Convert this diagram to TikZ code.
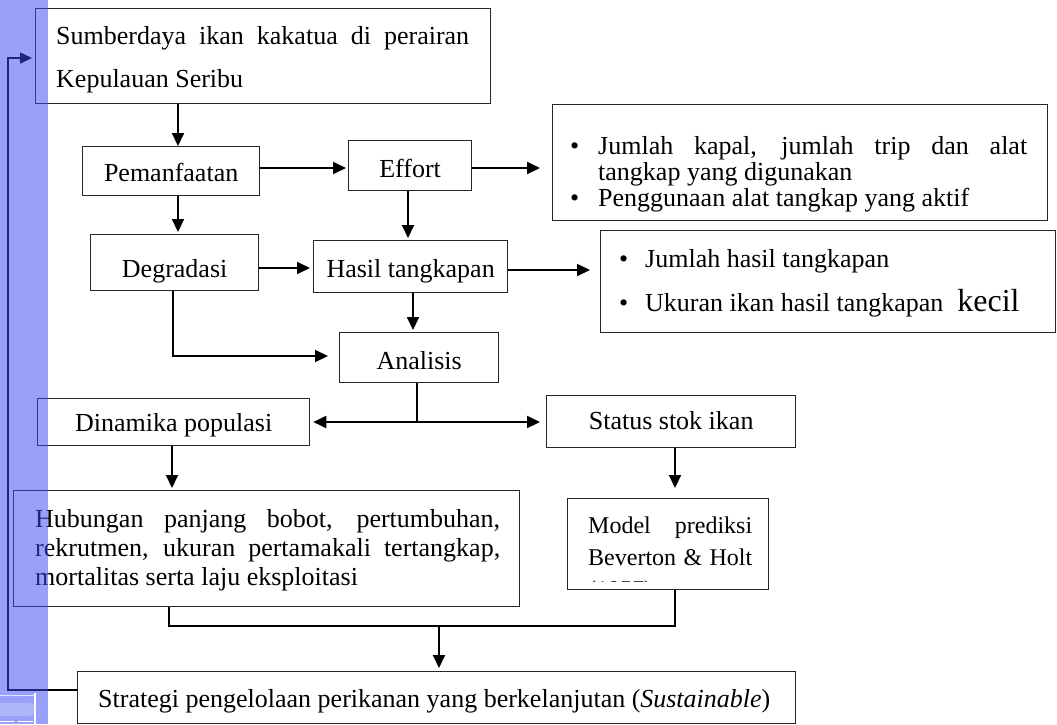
\documentclass[tikz,border=0pt]{standalone}
\usepackage{fontspec}
\setmainfont{Liberation Serif}
\usetikzlibrary{arrows.meta,calc}
\definecolor{stripblue}{RGB}{59,72,245}
\definecolor{stripbar}{RGB}{176,182,252}
\begin{document}
\begin{tikzpicture}[x=1pt,y=-1pt,
  font=\fontsize{26}{30}\selectfont,
  box/.style={draw=black!85, line width=1.3pt, inner sep=0pt, anchor=north west, text depth=6pt},
  txt/.style={inner sep=0pt, anchor=base west, align=left},
  arr/.style={line width=2pt, -{Triangle[length=13pt,width=12pt]}},
  ln/.style={line width=1.6pt},
  fb/.style={line width=1.6pt, -{Triangle[length=12pt,width=11pt]}},
]
\useasboundingbox (0,0) rectangle (1057,724);

% ---- boxes ----
\node[box, minimum width=455pt, minimum height=95pt] (src) at (35,8) {};
\node[txt, font=\fontsize{26}{43}\selectfont] (srct) at (56,87)
  {\makebox[413pt][s]{Sumberdaya ikan kakatua di perairan}\\Kepulauan Seribu};

\node[box, minimum width=177pt, minimum height=49pt, text height=27pt] (pem) at (82,146) {Pemanfaatan};
\node[box, minimum width=123pt, minimum height=50pt, text height=30pt] (eff) at (348,140) {Effort};

\node[box, minimum width=495pt, minimum height=116pt] (bul1) at (552,104) {};
\node[txt, font=\fontsize{26}{26}\selectfont] (bul1t) at (570,206)
  {\makebox[28pt][l]{\textbullet}\makebox[429pt][s]{Jumlah kapal, jumlah trip dan alat}\\
   \hspace*{28pt}tangkap yang digunakan\\
   \makebox[28pt][l]{\textbullet}Penggunaan alat tangkap yang aktif};

\node[box, minimum width=168pt, minimum height=56pt, text height=36pt] (deg) at (90,234) {Degradasi};
\node[box, minimum width=194pt, minimum height=52pt, text height=28pt] (has) at (313,240) {Hasil tangkapan};

\node[box, minimum width=455pt, minimum height=102pt] (bul2) at (600,230) {};
\node[txt, font=\fontsize{26}{44}\selectfont] (bul2t) at (619,311)
  {\makebox[26pt][l]{\textbullet}Jumlah hasil tangkapan\\
   \makebox[26pt][l]{\textbullet}Ukuran ikan hasil tangkapan\hspace{14pt}{\fontsize{32}{44}\selectfont kecil}};

\node[box, minimum width=159pt, minimum height=50pt, text height=30pt] (ana) at (339,332) {Analisis};
\node[box, minimum width=272pt, minimum height=47pt, text height=25pt] (din) at (37,398) {Dinamika populasi};
\node[box, minimum width=249pt, minimum height=52pt, text height=22pt] (sta) at (546,395) {Status stok ikan};

\node[box, minimum width=506pt, minimum height=116pt] (hub) at (13,490) {};
\node[txt, font=\fontsize{26}{29}\selectfont] (hubt) at (35,585)
  {\makebox[465pt][s]{Hubungan panjang bobot, pertumbuhan,}\\
   \makebox[465pt][s]{rekrutmen, ukuran pertamakali tertangkap,}\\
   mortalitas serta laju eksploitasi};

\node[box, minimum width=201pt, minimum height=91pt] (mod) at (567,498) {};
\begin{scope}
\clip (567,498) rectangle (768,581);
\node[txt, font=\fontsize{24}{32}\selectfont] (modt) at (588,597)
  {\makebox[164pt][s]{Model prediksi}\\
   \makebox[164pt][s]{Beverton \& Holt}\\
   (1957)};
\end{scope}

\node[box, minimum width=718pt, minimum height=52pt] (str) at (77,671) {};
\node[txt] (strt) at (98,707)
  {Strategi pengelolaan perikanan yang berkelanjutan (\textit{Sustainable})};

% ---- guide coordinates ----
\coordinate (xA) at (178,0);
\coordinate (yB) at (0,168);
\coordinate (xC) at (408,0);
\coordinate (yD) at (0,268);
\coordinate (yE) at (0,270);
\coordinate (xF) at (413,0);
\coordinate (xG) at (173,0);
\coordinate (yH) at (0,356);
\coordinate (xI) at (417,0);
\coordinate (yJ) at (0,422);
\coordinate (xK) at (172,0);
\coordinate (xL) at (675,0);
\coordinate (xM) at (169,0);
\coordinate (yN) at (0,626);
\coordinate (xP) at (439,0);
\coordinate (yQ) at (0,690);
\coordinate (xR) at (8,0);
\coordinate (yS) at (0,58);

% ---- connectors ----
\draw[arr] (xA |- src.south) -- (xA |- pem.north);
\draw[arr, shorten >=2pt] (pem.east |- yB) -- (eff.west |- yB);
\draw[arr, shorten >=12pt] (eff.east |- yB) -- (bul1.west |- yB);
\draw[arr, shorten >=2pt] (xA |- pem.south) -- (xA |- deg.north);
\draw[arr, shorten >=2pt] (xC |- eff.south) -- (xC |- has.north);
\draw[arr, shorten >=3pt] (deg.east |- yD) -- (has.west |- yD);
\draw[arr, shorten >=10pt] (has.east |- yE) -- (bul2.west |- yE);
\draw[arr, shorten >=2pt] (xF |- has.south) -- (xF |- ana.north);
\draw[arr, shorten >=11pt] (xG |- deg.south) -- (xG |- yH) -- (ana.west |- yH);
\draw[ln] (xI |- ana.south) -- (xI |- yJ);
\draw[arr, shorten >=3pt] (xI |- yJ) -- (din.east |- yJ);
\draw[arr, shorten >=6pt] (xI |- yJ) -- (sta.west |- yJ);
\draw[arr, shorten >=2pt] (xK |- din.south) -- (xK |- hub.north);
\draw[arr, shorten >=10pt] (xL |- sta.south) -- (xL |- mod.north);
\draw[ln] (xM |- hub.south) -- (xM |- yN) -- (xL |- yN) -- (xL |- mod.south);
\draw[arr, shorten >=3pt] (xP |- yN) -- (xP |- str.north);
\draw[fb, shorten >=3pt] (str.west |- yQ) -- (xR |- yQ) -- (xR |- yS) -- (src.west |- yS);

% ---- translucent side strip ----
\fill[stripblue, fill opacity=0.52] (0,0) rectangle (48,724);
\draw[white!60!stripbar, line width=1pt] (0,695) -- (35,695);
\draw[white, line width=1.2pt] (35,693) -- (35,724);
\fill[stripbar, rounded corners=4pt] (-6,703) rectangle (34,716);
\draw[white, line width=1pt] (0,721) -- (14,721) (18,721) -- (33,721);
\end{tikzpicture}
\end{document}
